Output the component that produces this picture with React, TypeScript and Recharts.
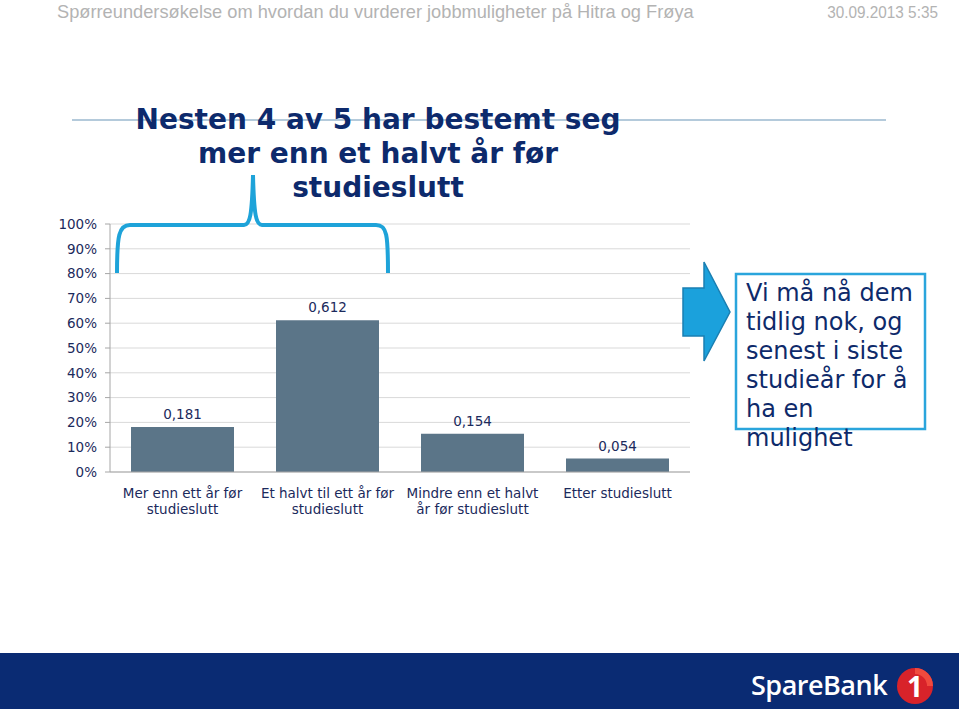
import React from "react";
import { BarChart, Bar, XAxis, YAxis, CartesianGrid, LabelList } from "recharts";

const categories = [
  "Mer enn ett år før\nstudieslutt",
  "Et halvt til ett år før\nstudieslutt",
  "Mindre enn et halvt\når før studieslutt",
  "Etter studieslutt",
];
const shares = [0.181, 0.612, 0.154, 0.054];
const yTicks = [0, 0.1, 0.2, 0.3, 0.4, 0.5, 0.6, 0.7, 0.8, 0.9, 1];
const calloutLines = [
  "Vi må nå dem",
  "tidlig nok, og",
  "senest i siste",
  "studieår for å",
  "ha en",
  "mulighet",
];
const titleLines = ["Nesten 4 av 5 har bestemt seg", "mer enn et halvt år før", "studieslutt"];

const data = categories.map((name, i) => ({ name, value: shares[i] }));

const NAVY = "#1b2a5c";
const FONT = "'DejaVu Sans', Verdana, sans-serif";
const HEAD_FONT = "'Liberation Sans Narrow', 'Liberation Sans', Arial, sans-serif";

function CategoryTick(props: any) {
  const { x, y, payload } = props;
  const lines = String(payload.value).split("\n");
  return (
    <text x={x} y={y} textAnchor="middle" fill={NAVY} fontSize={13.5} fontFamily={FONT}>
      {lines.map((l, i) => (
        <tspan key={i} x={x} dy={i === 0 ? 18 : 16}>
          {l}
        </tspan>
      ))}
    </text>
  );
}

export default function App() {
  return (
    <div
      style={{
        position: "absolute",
        left: 0,
        top: 0,
        width: 959,
        height: 709,
        background: "#fff",
        overflow: "hidden",
        fontFamily: FONT,
      }}
    >
      <div
        style={{
          position: "absolute",
          left: 57,
          top: 0,
          fontFamily: HEAD_FONT,
          fontSize: 19,
          lineHeight: "24px",
          color: "#b3b3b3",
          whiteSpace: "nowrap",
          transform: "scaleX(0.96)",
          transformOrigin: "left top",
        }}
      >
        Spørreundersøkelse om hvordan du vurderer jobbmuligheter på Hitra og Frøya
      </div>
      <div
        style={{
          position: "absolute",
          right: 21,
          top: 1,
          fontFamily: HEAD_FONT,
          fontSize: 17,
          lineHeight: "24px",
          color: "#b3b3b3",
          whiteSpace: "nowrap",
          transform: "scaleX(0.9)",
          transformOrigin: "right top",
        }}
      >
        30.09.2013 5:35
      </div>

      <div style={{ position: "absolute", left: 72, top: 119, width: 814, height: 1.5, background: "#b4cadb" }} />

      <div
        style={{
          position: "absolute",
          left: 78,
          width: 600,
          top: 103,
          textAlign: "center",
          fontWeight: "bold",
          fontSize: 28,
          lineHeight: "34px",
          color: "#0d2a6c",
        }}
      >
        {titleLines.map((l, i) => (
          <div key={i}>{l}</div>
        ))}
      </div>

      <div style={{ position: "absolute", left: 0, top: 200 }}>
        <BarChart width={720} height={340} data={data} margin={{ top: 24, right: 30, left: 0, bottom: 0 }}>
          <CartesianGrid vertical={false} stroke="#d9d9d9" />
          <YAxis
            width={110}
            domain={[0, 1]}
            ticks={yTicks}
            interval={0}
            tickFormatter={(v: number) => `${Math.round(v * 100)}%`}
            tick={{ fontSize: 13.5, fill: NAVY, fontFamily: FONT }}
            tickSize={5}
            tickMargin={8}
            stroke="#a6a6a6"
          />
          <XAxis
            dataKey="name"
            height={68}
            interval={0}
            tick={<CategoryTick />}
            tickLine={false}
            stroke="#a6a6a6"
          />
          <Bar dataKey="value" fill="#5b7588" barSize={103} isAnimationActive={false}>
            <LabelList
              dataKey="value"
              position="top"
              offset={8}
              formatter={(v: any) => String(v).replace(".", ",")}
              style={{ fontSize: 13.5, fill: NAVY, fontFamily: FONT }}
            />
          </Bar>
        </BarChart>
      </div>

      <svg style={{ position: "absolute", left: 0, top: 0 }} width={959} height={709}>
        <path
          d="M117 273 C117 235 119 225 130 225 L244 225 C250 225 252 215 253 175 C254 215 256 225 262 225 L376 225 C387 225 388 235 388 273"
          fill="none"
          stroke="#1ea3d9"
          strokeWidth={4}
        />
        <path
          d="M683 288 L704 288 L704 262 L730 312 L704 361 L704 336 L683 336 Z"
          fill="#1ba1dc"
          stroke="#1a7fb2"
          strokeWidth={1.5}
        />
        <rect x={736} y={274} width={189} height={155} fill="#fff" stroke="#2aa5dc" strokeWidth={2.5} />
      </svg>

      <div
        style={{
          position: "absolute",
          left: 746,
          top: 279,
          fontSize: 24,
          lineHeight: "29px",
          color: "#0e2a6a",
          whiteSpace: "nowrap",
        }}
      >
        {calloutLines.map((l, i) => (
          <div key={i}>{l}</div>
        ))}
      </div>

      <div style={{ position: "absolute", left: 0, top: 653, width: 959, height: 56, background: "#0a2b73" }} />
      <div
        style={{
          position: "absolute",
          left: 751,
          top: 667,
          fontFamily: "'Open Sans', 'Noto Sans', sans-serif",
          fontWeight: 600,
          fontSize: 27,
          lineHeight: "36px",
          letterSpacing: -0.5,
          color: "#fff",
        }}
      >
        SpareBank
      </div>
      <svg style={{ position: "absolute", left: 893, top: 664 }} width={44} height={44}>
        <circle cx={22} cy={22} r={18} fill="#d8232a" />
        <path d="M22 4 A18 18 0 0 1 40 22 L34 22 A12 12 0 0 0 22 10 Z" fill="#f04a3e" />
        <text x={22} y={33} textAnchor="middle" fill="#fff" fontSize={28} fontWeight="bold" fontFamily="'Open Sans', sans-serif">
          1
        </text>
      </svg>
    </div>
  );
}
